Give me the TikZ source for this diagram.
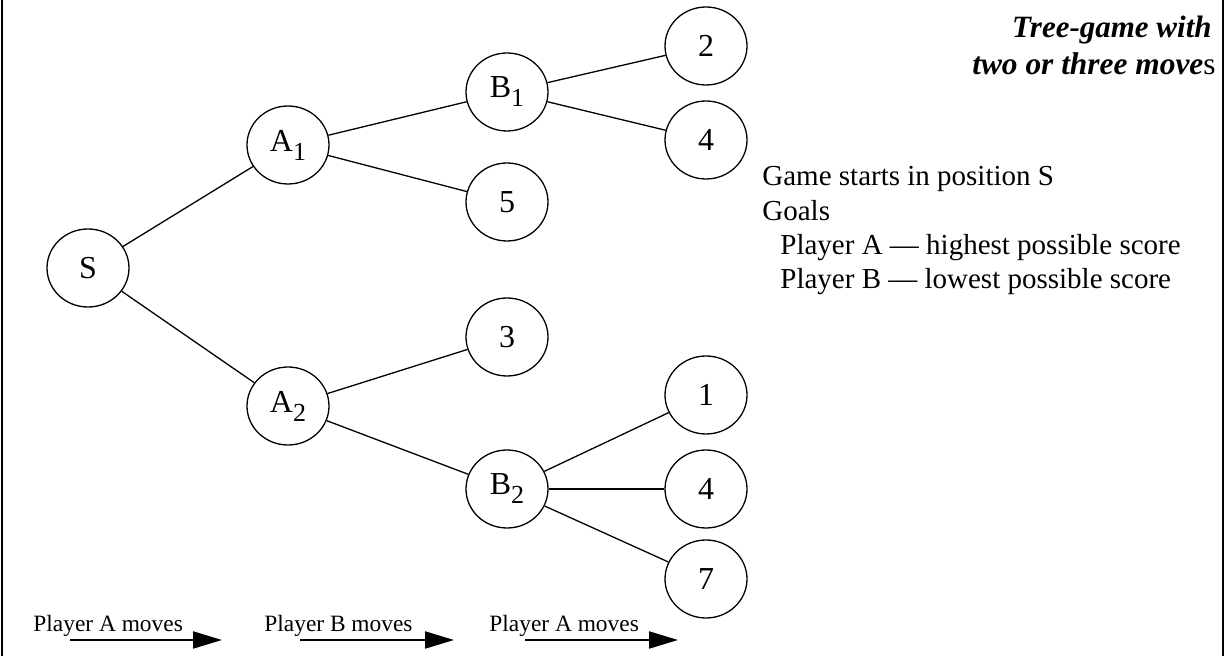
\documentclass[tikz,border=0pt]{standalone}
\usepackage{fontspec}
\setmainfont{Liberation Serif}
\usetikzlibrary{shapes.geometric, arrows.meta}
\newcommand{\possub}[1]{\raisebox{-4.5pt}{\fontsize{13}{15}\selectfont #1}}

\begin{document}
\begin{tikzpicture}[x=0.5pt, y=-0.5pt,
    gamepos/.style={ellipse, draw, line width=0.65pt, minimum width=41pt, minimum height=39pt, inner sep=0pt, font=\fontsize{16}{19}\selectfont},
    edge/.style={line width=0.65pt},
    note/.style={anchor=base west, inner sep=0pt, font=\fontsize{14.5}{17}\selectfont},
    movelabel/.style={anchor=base west, inner sep=0pt, font=\fontsize{11.7}{14}\selectfont},
    movearrow/.style={line width=1pt, -{Triangle[length=14.5pt, width=8.5pt]}}]
    \useasboundingbox (0,0) rectangle (1226,656);

    % Frame
    \draw[line width=1pt] (1.5,0) -- (1.5,656);
    \draw[line width=1pt] (1223,0) -- (1223,656);

    % Positions
    \node[gamepos] (S) at (88,268) {S};
    \node[gamepos] (A1) at (288,145) {A\possub{1}};
    \node[gamepos] (A2) at (288,406) {A\possub{2}};
    \node[gamepos] (B1) at (507,92) {B\possub{1}};
    \node[gamepos] (five) at (507,202) {5};
    \node[gamepos] (three) at (507,337) {3};
    \node[gamepos] (B2) at (507,489) {B\possub{2}};
    \node[gamepos] (two) at (706,46) {2};
    \node[gamepos] (fourA) at (706,140) {4};
    \node[gamepos] (one) at (706,395) {1};
    \node[gamepos] (fourB) at (706,489) {4};
    \node[gamepos] (seven) at (706,579) {7};

    % Moves
    \draw[edge] (S) -- (A1);
    \draw[edge] (S) -- (A2);
    \draw[edge] (A1) -- (B1);
    \draw[edge] (A1) -- (five);
    \draw[edge] (A2) -- (three);
    \draw[edge] (A2) -- (B2);
    \draw[edge] (B1) -- (two);
    \draw[edge] (B1) -- (fourA);
    \draw[edge] (B2) -- (one);
    \draw[edge] (B2) -- (fourB);
    \draw[edge] (B2) -- (seven);

    % Title
    \node[anchor=base east, inner sep=0pt, font=\fontsize{15.5}{18}\selectfont] (title1) at (1212,38) {\textbf{\textit{Tree-game with}}};
    \node[anchor=base east, inner sep=0pt, font=\fontsize{15.7}{18}\selectfont] (title2) at (1216,75) {\textbf{\textit{two or three move}}s};

    % Rules
    \node[note] (start) at (762,186) {Game starts in position S};
    \node[note] (goals) at (762,221) {Goals};
    \node[note] (goalA) at (780,255) {Player A --- highest possible score};
    \node[note] (goalB) at (780,289) {Player B --- lowest possible score};

    % Whose turn
    \node[movelabel] (turn1) at (33,632) {Player A moves};
    \node[movelabel] (turn2) at (264,632) {Player B moves};
    \node[movelabel] (turn3) at (489,632) {Player A moves};
    \coordinate (t1s) at (70,640);
    \coordinate (t1e) at (222,640);
    \coordinate (t2s) at (300,640);
    \coordinate (t2e) at (454,640);
    \coordinate (t3s) at (525,640);
    \coordinate (t3e) at (678,640);
    \draw[movearrow] (t1s) -- (t1e);
    \draw[movearrow] (t2s) -- (t2e);
    \draw[movearrow] (t3s) -- (t3e);
\end{tikzpicture}
\end{document}
